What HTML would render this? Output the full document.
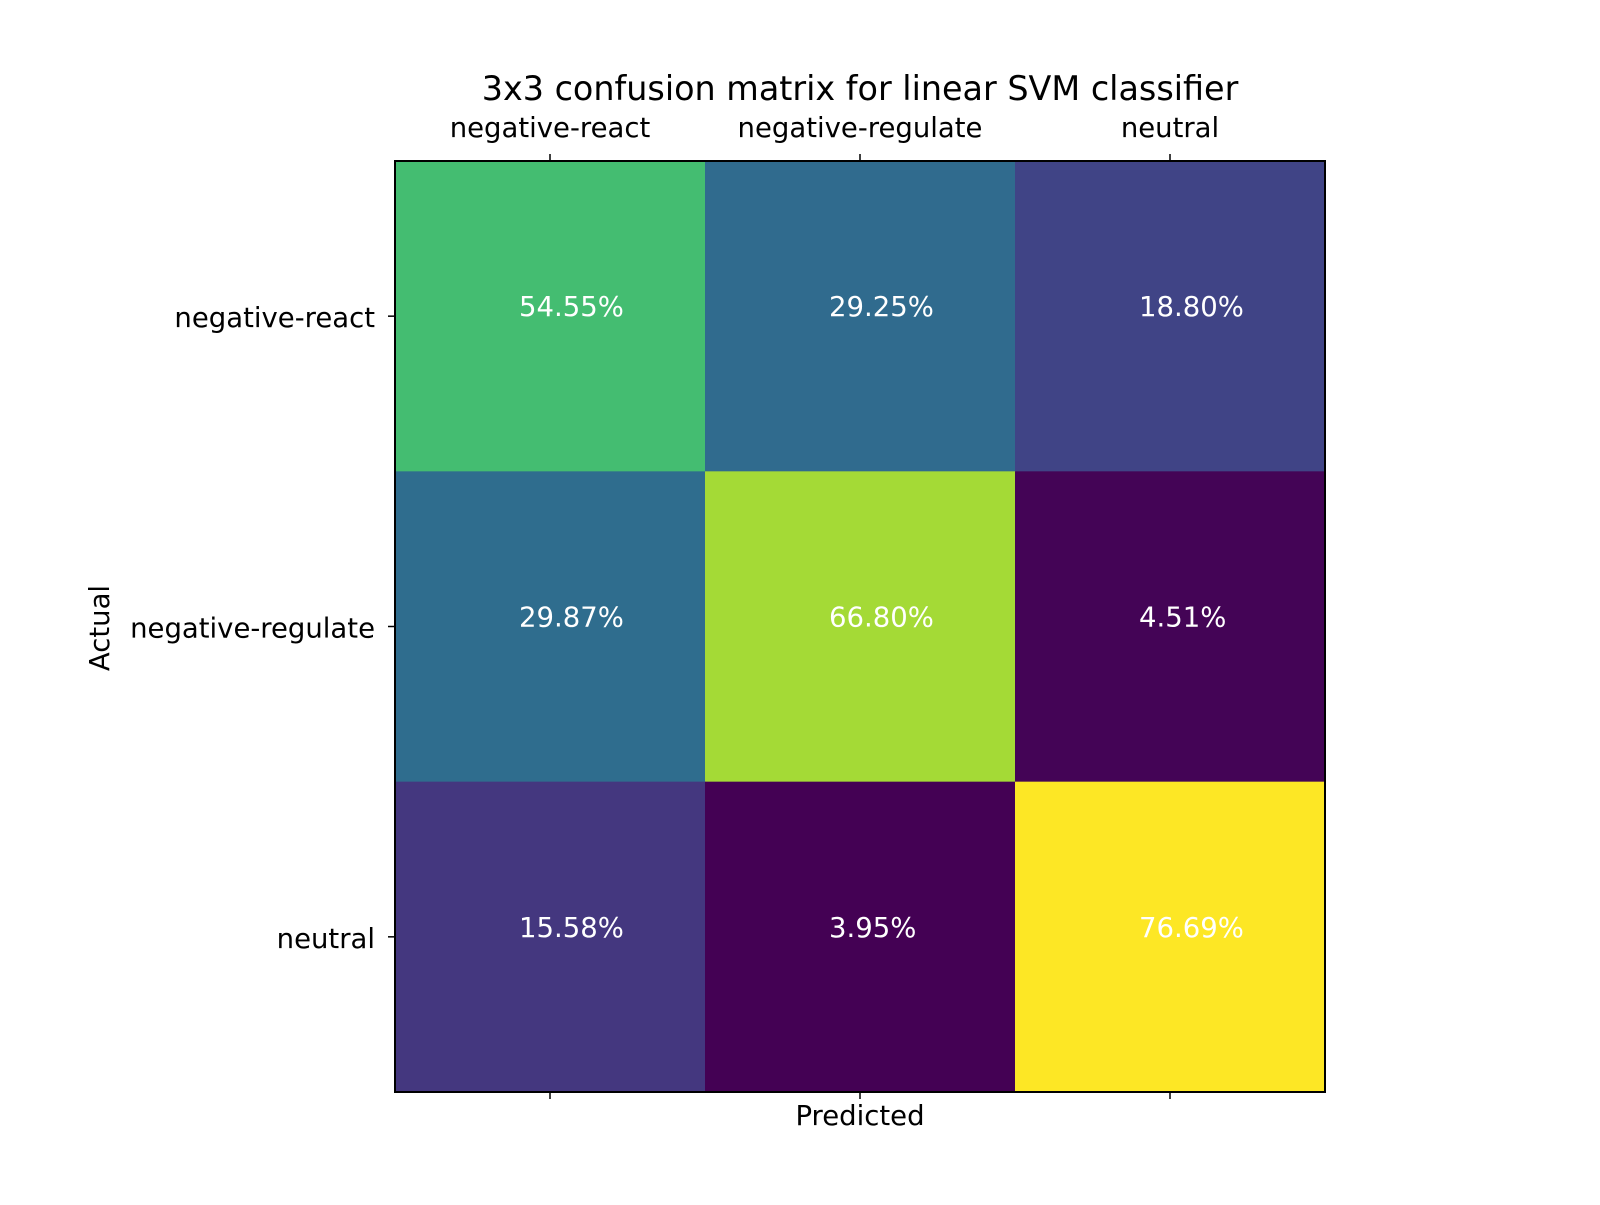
<!DOCTYPE html>
<html><head><meta charset="utf-8"><style>
body{margin:0;background:#fff;}
svg text{font-family:"DejaVu Sans","Liberation Sans",sans-serif;}
</style></head><body>
<svg id="chart" width="1600" height="1200" xmlns="http://www.w3.org/2000/svg">
<rect width="1600" height="1200" fill="#fff"/>
<text x="860" y="100" font-size="33.4" text-anchor="middle">3x3 confusion matrix for linear SVM classifier</text>
<g id="cells"></g>
<rect x="395" y="161" width="930" height="931" fill="none" stroke="#000" stroke-width="2"/>
<g id="ticks"></g>
<text x="860" y="1125" font-size="27.5" text-anchor="middle">Predicted</text>
<text x="0" y="0" font-size="27.5" text-anchor="middle" transform="translate(109,628) rotate(-90)">Actual</text>
</svg>
<script>
const labels = ["negative-react","negative-regulate","neutral"];
const row0 = [54.55, 29.25, 18.80];
const row1 = [29.87, 66.80, 4.51];
const row2 = [15.58, 3.95, 76.69];
const matrix = [row0,row1,row2];
const NS="http://www.w3.org/2000/svg";
const X0=395,Y0=161,W=930,H=931,n=labels.length;
const cw=W/n, ch=H/n;
const xc=j=>X0+cw*(j+0.5), yc=i=>Y0+ch*(i+0.5);
const vir=[[68,1,84],[72,40,120],[62,74,137],[49,104,142],[38,130,142],[31,158,137],[53,183,121],[109,205,89],[180,222,44],[253,231,37]];
function color(t){t=Math.max(0,Math.min(1,t));const p=t*(vir.length-1),k=Math.min(vir.length-2,Math.floor(p)),f=p-k;
 const c=vir[k].map((v,q)=>Math.round(v+(vir[k+1][q]-v)*f));return `rgb(${c})`;}
const all=matrix.flat(),mn=Math.min(...all),mx=Math.max(...all);
const cells=document.getElementById('cells'),ticks=document.getElementById('ticks');
function mk(tag,attrs,parent){const e=document.createElementNS(NS,tag);for(const k in attrs)e.setAttribute(k,attrs[k]);parent.appendChild(e);return e;}
matrix.forEach((row,i)=>row.forEach((v,j)=>{
 const r=mk('rect',{x:X0+cw*j,y:Y0+ch*i,width:cw+0.5,height:ch+0.5,fill:color((v-mn)/(mx-mn))},cells);
 
 
 const t=mk('text',{x:xc(j)-0.1*cw,y:yc(i),'font-size':27.5,fill:'#fff'},cells);
 t.textContent=v.toFixed(2)+'%';
 
 
}));
labels.forEach((l,j)=>{
 const a=mk('line',{x1:xc(j),x2:xc(j),y1:Y0-7,y2:Y0,stroke:'#000','stroke-width':1.5},ticks);
 
 
 const b=mk('line',{x1:xc(j),x2:xc(j),y1:Y0+H,y2:Y0+H+7,stroke:'#000','stroke-width':1.5},ticks);
 
 
 const t=mk('text',{x:xc(j),y:Y0-24,'font-size':27.5,'text-anchor':'middle'},ticks);
 t.textContent=l;
 
 
 const c=mk('line',{x1:X0-7,x2:X0,y1:yc(j),y2:yc(j),stroke:'#000','stroke-width':1.5},ticks);
 
 
 const u=mk('text',{x:X0-20,y:yc(j)+11,'font-size':27.5,'text-anchor':'end'},ticks);
 u.textContent=l;
 
 
});
</script>
</body></html>
